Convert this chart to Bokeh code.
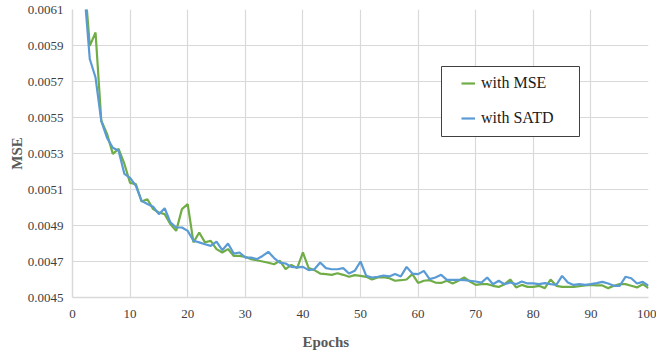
from bokeh.plotting import figure
from bokeh.models import (Range1d, FixedTicker, Legend, LegendItem, BoxAnnotation,
                          Title, NumeralTickFormatter)
from bokeh.embed import file_html
from bokeh.resources import INLINE

epochs = list(range(1, 101))

mse_loss = [
    0.00720, 0.00630, 0.005898, 0.005972, 0.005482, 0.005409, 0.005298, 0.005326, 0.005243, 0.005137,
    0.005130, 0.005033, 0.005046, 0.004991, 0.004972, 0.004963, 0.004907, 0.004870, 0.004991, 0.005019,
    0.004806, 0.004861, 0.004806, 0.004815, 0.004769, 0.004750, 0.004769, 0.004731, 0.004731, 0.004726,
    0.004713, 0.004707, 0.004700, 0.004693, 0.004685, 0.004704, 0.004657, 0.004681, 0.004663, 0.004750,
    0.004663, 0.004652, 0.004633, 0.004630, 0.004626, 0.004635, 0.004626, 0.004615, 0.004624, 0.004620,
    0.004615, 0.004600, 0.004611, 0.004613, 0.004607, 0.004593, 0.004596, 0.004600, 0.004630, 0.004581,
    0.004593, 0.004596, 0.004583, 0.004581, 0.004593, 0.004578, 0.004593, 0.004611, 0.004589, 0.004570,
    0.004574, 0.004574, 0.004565, 0.004559, 0.004574, 0.004600, 0.004556, 0.004570, 0.004559, 0.004559,
    0.004565, 0.004552, 0.004600, 0.004565, 0.004559, 0.004559, 0.004559, 0.004563, 0.004567, 0.004570,
    0.004567, 0.004567, 0.004552, 0.004565, 0.004574, 0.004574, 0.004565, 0.004556, 0.004574, 0.004552,
]

satd_loss = [
    0.00700, 0.00622, 0.005825, 0.005722, 0.005480, 0.005387, 0.005332, 0.005315, 0.005187, 0.005165,
    0.005120, 0.005037, 0.005019, 0.005004, 0.004963, 0.004996, 0.004917, 0.004889, 0.004889, 0.004870,
    0.004815, 0.004806, 0.004796, 0.004787, 0.004811, 0.004763, 0.004800, 0.004744, 0.004750, 0.004722,
    0.004722, 0.004713, 0.004731, 0.004754, 0.004719, 0.004694, 0.004689, 0.004670, 0.004667, 0.004670,
    0.004652, 0.004657, 0.004694, 0.004663, 0.004657, 0.004657, 0.004663, 0.004633, 0.004648, 0.004700,
    0.004620, 0.004611, 0.004615, 0.004622, 0.004617, 0.004630, 0.004617, 0.004670, 0.004633, 0.004630,
    0.004648, 0.004602, 0.004611, 0.004626, 0.004598, 0.004598, 0.004598, 0.004596, 0.004593, 0.004589,
    0.004583, 0.004611, 0.004574, 0.004593, 0.004574, 0.004583, 0.004574, 0.004589, 0.004578, 0.004578,
    0.004574, 0.004580, 0.004574, 0.004570, 0.004620, 0.004583, 0.004570, 0.004574, 0.004570, 0.004574,
    0.004580, 0.004587, 0.004578, 0.004565, 0.004565, 0.004615, 0.004607, 0.004578, 0.004587, 0.004565,
]

x_ticks = [0, 10, 20, 30, 40, 50, 60, 70, 80, 90, 100]
y_ticks = [0.0045, 0.0047, 0.0049, 0.0051, 0.0053, 0.0055, 0.0057, 0.0059, 0.0061]

series_names = ["with MSE", "with SATD"]
series_colors = ["#70AD47", "#5B9BD5"]

FONT = "Liberation Serif"

p = figure(width=656, height=360, output_backend="svg", toolbar_location=None,
           x_range=Range1d(0, 100), y_range=Range1d(0.0045, 0.0061))
p.min_border_left = 72
p.min_border_right = 8
p.min_border_top = 9
p.min_border_bottom = 63
p.outline_line_color = None
p.background_fill_color = "white"
p.border_fill_color = "white"

for ax in (p.xaxis[0], p.yaxis[0]):
    ax.axis_line_color = "#d9d9d9"
    ax.axis_line_width = 1.5
    ax.major_tick_line_color = None
    ax.minor_tick_line_color = None
    ax.major_tick_out = 0
    ax.major_tick_in = 0
    ax.major_label_text_font = FONT
    ax.major_label_text_font_size = "13px"
    ax.major_label_text_color = "#404040"

p.xaxis[0].ticker = FixedTicker(ticks=x_ticks)
p.yaxis[0].ticker = FixedTicker(ticks=y_ticks)
p.yaxis[0].formatter = NumeralTickFormatter(format="0.0000")
p.xaxis[0].major_label_standoff = 12
p.yaxis[0].major_label_standoff = 9

p.yaxis[0].axis_label = "MSE"
p.yaxis[0].axis_label_text_font = FONT
p.yaxis[0].axis_label_text_font_size = "15px"
p.yaxis[0].axis_label_text_font_style = "bold"
p.yaxis[0].axis_label_text_color = "#595959"
p.yaxis[0].axis_label_standoff = 0

p.xgrid[0].ticker = FixedTicker(ticks=x_ticks)
p.ygrid[0].ticker = FixedTicker(ticks=y_ticks)
for g in (p.xgrid[0], p.ygrid[0]):
    g.grid_line_color = "#d9d9d9"
    g.grid_line_width = 1.2

r1 = p.line(epochs, mse_loss, line_color=series_colors[0], line_width=2.2)
r2 = p.line(epochs, satd_loss, line_color=series_colors[1], line_width=2.2)

t = Title(text="Epochs", align="left", offset=230, standoff=22,
          text_font=FONT, text_font_size="15px", text_font_style="bold",
          text_color="#595959")
p.add_layout(t, "below")

box = BoxAnnotation(left=369, right=507, top=231, bottom=161,
                    left_units="screen", right_units="screen",
                    top_units="screen", bottom_units="screen",
                    fill_color="white", fill_alpha=1.0,
                    line_color="#404040", line_width=1, line_alpha=1.0)
p.add_layout(box)

legend = Legend(items=[LegendItem(label=series_names[0], renderers=[r1]),
                       LegendItem(label=series_names[1], renderers=[r2])],
                location=(389, 170), orientation="vertical",
                glyph_width=14, glyph_height=18, label_height=18, spacing=17,
                padding=0, margin=0, label_standoff=6,
                border_line_alpha=0, background_fill_alpha=0,
                label_text_font=FONT, label_text_font_size="16px",
                label_text_color="#1a1a1a")
p.add_layout(legend)

open("out.html", "w").write(file_html(p, INLINE))
